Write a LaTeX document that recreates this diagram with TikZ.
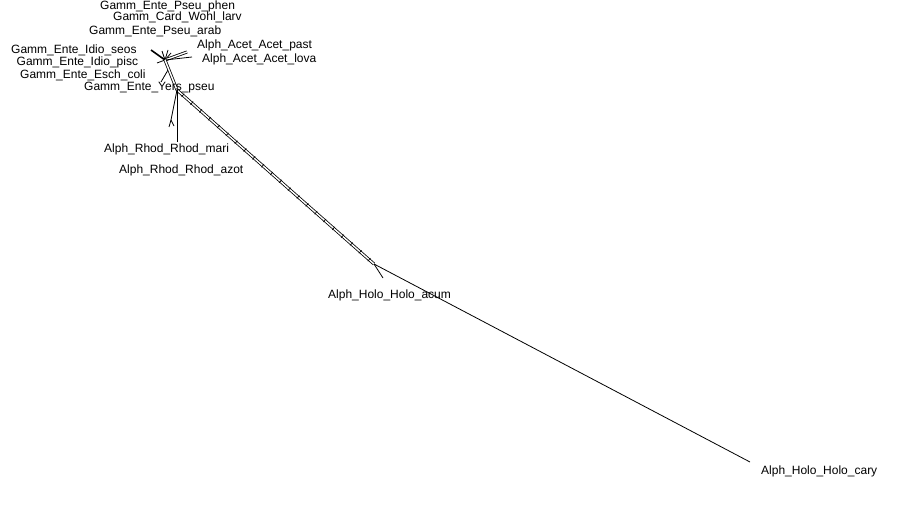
\documentclass[tikz,border=0pt]{standalone}
\usepackage{fontspec}
\setmainfont{Liberation Sans}
\usetikzlibrary{calc}
\begin{document}
\begin{tikzpicture}[x=1pt,y=-1pt,
  edge/.style={line width=0.8pt},
  thick edge/.style={line width=1.6pt},
  dbl/.style={line width=0.8pt, double, double distance=1.4pt},
  rung/.style={line width=0.7pt},
  lab/.style={font=\fontsize{12}{14}\selectfont, inner sep=0pt, anchor=base west}]
\useasboundingbox[fill=white] (0,0) rectangle (900,511);
% network points
\coordinate (hub) at (165,60);
\coordinate (seos) at (151,50);
\coordinate (phen) at (162,51);
\coordinate (larv) at (168,50);
\coordinate (arab) at (171,53);
\coordinate (past) at (187,52);
\coordinate (lova) at (192,57);
\coordinate (pisc) at (157,63);
\coordinate (coli) at (161,82);
\coordinate (colib) at (168,70);
\coordinate (joint) at (177,90);
\coordinate (mari1) at (171,120);
\coordinate (mari) at (169,127);
\coordinate (marib) at (174,126);
\coordinate (azot) at (177,142);
\coordinate (hol) at (374,264);
\coordinate (acum) at (383,278);
\coordinate (cary) at (750,462);
% edges
\draw[thick edge] (hub) -- (seos);
\draw[edge] (hub) -- (phen);
\draw[edge] (hub) -- (larv);
\draw[edge] (hub) -- (arab);
\draw[dbl] (hub) -- (past);
\draw[edge] (hub) -- (lova);
\draw[edge] (hub) -- (pisc);
\draw[edge] (colib) -- (coli);
\draw[dbl] (hub) -- (joint);
\draw[dbl] (joint) -- (hol);
\foreach \t in {0.03,0.075,...,0.98}{
  \coordinate (m) at ($(joint)!\t!(hol)$);
  \draw[rung] ($(m)!2pt!90:(hol)$) -- ($(m)!2pt!-90:(hol)$);
}
\draw[edge] (joint) -- (mari1) -- (mari);
\draw[edge] (mari1) -- (marib);
\draw[edge] (joint) -- (azot);
\draw[edge] (hol) -- (acum);
\draw[edge] (hol) -- (cary);
% labels
\node[lab] (lphen) at (100,9.5) {Gamm\_Ente\_Pseu\_phen};
\node[lab] (llarv) at (113,21) {Gamm\_Card\_Wohl\_larv};
\node[lab] (larab) at (89,35) {Gamm\_Ente\_Pseu\_arab};
\node[lab] (lseos) at (11,54) {Gamm\_Ente\_Idio\_seos};
\node[lab] (lpisc) at (16.5,66) {Gamm\_Ente\_Idio\_pisc};
\node[lab] (lcoli) at (20,79) {Gamm\_Ente\_Esch\_coli};
\node[lab] (lyers) at (84,91) {Gamm\_Ente\_Yers\_pseu};
\node[lab] (lpast) at (197,49) {Alph\_Acet\_Acet\_past};
\node[lab] (llova) at (202,63) {Alph\_Acet\_Acet\_lova};
\node[lab] (lmari) at (104,152) {Alph\_Rhod\_Rhod\_mari};
\node[lab] (lazot) at (119,173) {Alph\_Rhod\_Rhod\_azot};
\node[lab] (lacum) at (328,298) {Alph\_Holo\_Holo\_acum};
\node[lab] (lcary) at (761,474) {Alph\_Holo\_Holo\_cary};
\end{tikzpicture}
\end{document}
